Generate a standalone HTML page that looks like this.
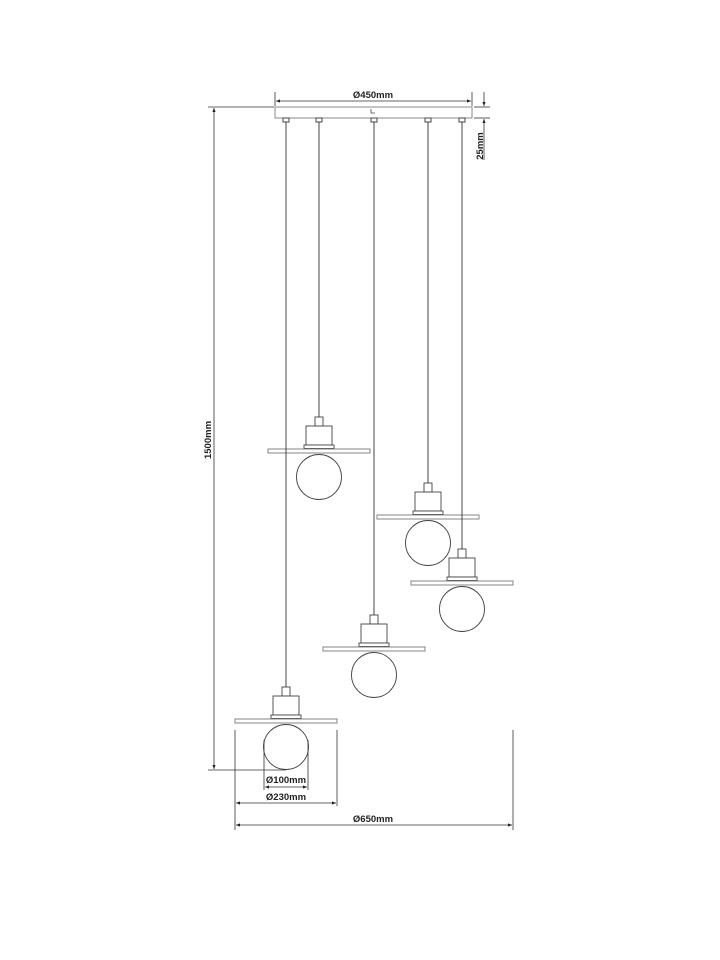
<!DOCTYPE html>
<html><head><meta charset="utf-8"><style>
html,body{margin:0;padding:0;background:#fff;width:720px;height:960px;overflow:hidden}
svg text{font-family:"Liberation Sans",Arial,sans-serif;font-weight:bold;font-size:9.5px;fill:#222}
</style></head><body>
<svg width="720" height="960" viewBox="0 0 720 960" xmlns="http://www.w3.org/2000/svg">
<defs>
<marker id="a" viewBox="0 0 10 10" refX="10" refY="5" markerWidth="7" markerHeight="5" orient="auto-start-reverse"><path d="M0,1 L10,5 L0,9 z" fill="#222"/></marker>
<g id="lamp" fill="#fff" stroke="#444" stroke-width="0.9">
<rect x="-4" y="-33" width="8" height="9"/>
<rect x="-13" y="-24" width="26" height="19"/>
<rect x="-15" y="-5" width="30" height="3.5"/>
<rect x="-51" y="-1" width="102" height="4" stroke="#777" fill="none"/>
<circle cx="0" cy="27" r="22.5"/>
</g>
</defs>
<g stroke="#444" stroke-width="1" fill="none">
<line x1="319" y1="122" x2="319" y2="417"/>
<line x1="428" y1="122" x2="428" y2="483"/>
<rect x="275" y="107" width="197" height="11" fill="#fff" stroke="#888"/>
<rect x="283" y="118" width="6" height="4"/><rect x="316" y="118" width="6" height="4"/>
<rect x="371" y="118" width="6" height="4"/><rect x="425" y="118" width="6" height="4"/>
<rect x="459" y="118" width="6" height="4"/>
<path d="M371,109 v4 h4" stroke-width="0.8"/>
</g>
<use href="#lamp" x="319" y="450"/>
<use href="#lamp" x="428" y="516"/>
<g stroke="#444" stroke-width="1"><line x1="462" y1="122" x2="462" y2="549"/></g>
<use href="#lamp" x="462" y="582"/>
<g stroke="#444" stroke-width="1"><line x1="374" y1="122" x2="374" y2="615"/></g>
<use href="#lamp" x="374" y="648"/>
<g stroke="#444" stroke-width="1"><line x1="286" y1="122" x2="286" y2="689"/></g>
<use href="#lamp" x="286" y="720"/>
<g stroke="#333" stroke-width="0.8" fill="none">
<line x1="275" y1="92" x2="275" y2="106"/><line x1="472" y1="92" x2="472" y2="106"/>
<line x1="276" y1="101" x2="471" y2="101" marker-start="url(#a)" marker-end="url(#a)"/>
<line x1="474" y1="107" x2="490" y2="107"/><line x1="474" y1="118" x2="490" y2="118"/>
<line x1="484" y1="92" x2="484" y2="106" marker-end="url(#a)"/>
<line x1="484" y1="160" x2="484" y2="119" marker-end="url(#a)"/>
<line x1="208" y1="107" x2="274" y2="107"/>
<line x1="208" y1="770" x2="286" y2="770"/>
<line x1="214" y1="108" x2="214" y2="769" marker-start="url(#a)" marker-end="url(#a)"/>
<line x1="264" y1="740" x2="264" y2="790"/><line x1="308" y1="740" x2="308" y2="790"/>
<line x1="265" y1="787" x2="307" y2="787" marker-start="url(#a)" marker-end="url(#a)"/>
<line x1="235" y1="730" x2="235" y2="830"/><line x1="337" y1="730" x2="337" y2="806"/>
<line x1="236" y1="803" x2="336" y2="803" marker-start="url(#a)" marker-end="url(#a)"/>
<line x1="513" y1="730" x2="513" y2="830"/>
<line x1="236" y1="825" x2="512" y2="825" marker-start="url(#a)" marker-end="url(#a)"/>
</g>
<text x="373" y="98" text-anchor="middle">Ø450mm</text>
<text transform="translate(483,146) rotate(-90)" text-anchor="middle">25mm</text>
<text transform="translate(211,440) rotate(-90)" text-anchor="middle">1500mm</text>
<text x="286" y="783" text-anchor="middle">Ø100mm</text>
<text x="286" y="800" text-anchor="middle">Ø230mm</text>
<text x="373" y="822" text-anchor="middle">Ø650mm</text>
</svg>
</body></html>
